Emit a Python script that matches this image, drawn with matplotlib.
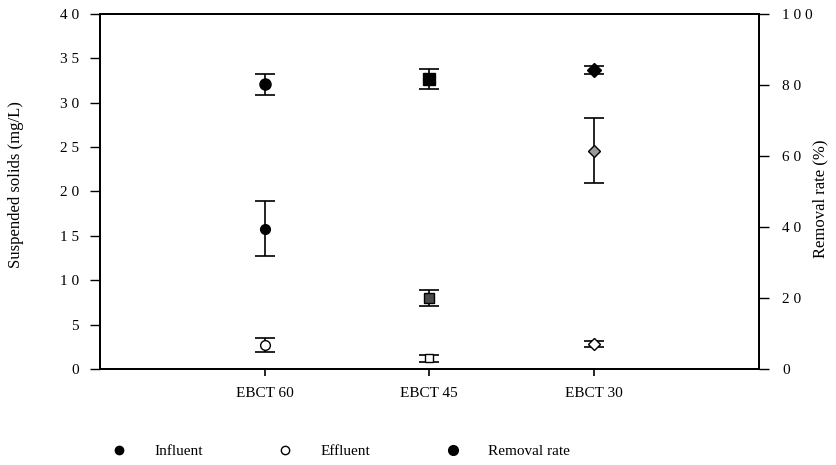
import numpy as np
import matplotlib.pyplot as plt
from matplotlib.lines import Line2D

plt.rcParams["font.family"] = ["Liberation Serif", "DejaVu Serif"]

groups = ["EBCT 60", "EBCT 45", "EBCT 30"]
influent = [15.8, 8.0, 24.6]
influent_err = [3.1, 0.9, 3.7]
effluent = [2.7, 1.2, 2.8]
effluent_err = [0.8, 0.4, 0.3]
removal = [80.2, 81.6, 84.2]
removal_err = [3.0, 2.8, 1.0]

ss_ticks = [0, 5, 10, 15, 20, 25, 30, 35, 40]
ss_labels = ["0", "5", "1 0", "1 5", "2 0", "2 5", "3 0", "3 5", "4 0"]
rr_ticks = [0, 20, 40, 60, 80, 100]
rr_labels = ["0", "2 0", "4 0", "6 0", "8 0", "1 0 0"]

# one marker shape per EBCT group
shapes = ["o", "s", "D"]
inf_face = ["black", "#4a4a4a", "#9a9a9a"]
sizes = [7, 7, 6]

fig = plt.figure(figsize=(8.36, 4.65), dpi=100)
ax = fig.add_axes([0.1196, 0.2065, 0.788, 0.7635])
ax2 = ax.twinx()

x = np.arange(1, len(groups) + 1)
eb = dict(ecolor="black", elinewidth=1.2, capsize=7, capthick=1.2, linestyle="none", mec="black")

for i in range(len(groups)):
    ax.errorbar(x[i], influent[i], yerr=influent_err[i], marker=shapes[i],
                mfc=inf_face[i], ms=sizes[i], **eb)
    ax.errorbar(x[i], effluent[i], yerr=effluent_err[i], marker=shapes[i],
                mfc="white", ms=sizes[i] - (1 if i == 1 else 0), **eb)
    ax2.errorbar(x[i], removal[i], yerr=removal_err[i], marker=shapes[i],
                 mfc="black", ms=sizes[i] + 1, **eb)

ax.set_xlim(0, 4)
ax.set_ylim(0, 40)
ax2.set_ylim(0, 100)
ax.set_xticks(x)
ax.set_xticklabels(groups, fontsize=11)
ax.set_yticks(ss_ticks)
ax.set_yticklabels(ss_labels, fontsize=11)
ax2.set_yticks(rr_ticks)
ax2.set_yticklabels(rr_labels, fontsize=11)

ax.tick_params(axis="x", direction="out", length=5, width=1.2, pad=8)
ax.tick_params(axis="y", direction="out", length=7, width=1.0, pad=8)
ax2.tick_params(axis="y", direction="out", length=7, width=1.0, pad=10)

for a in (ax, ax2):
    for s in a.spines.values():
        s.set_linewidth(1.3)

ax.set_ylabel("Suspended solids (mg/L)", fontsize=12)
ax2.set_ylabel("Removal rate (%)", fontsize=12)
ax.yaxis.set_label_coords(-0.116, 0.52)
ax2.yaxis.set_label_coords(1.082, 0.48)

handles = [
    Line2D([], [], marker="o", ls="none", mfc="black", mec="black", ms=6),
    Line2D([], [], marker="o", ls="none", mfc="white", mec="black", ms=6),
    Line2D([], [], marker="o", ls="none", mfc="black", mec="black", ms=7),
]
fig.legend(handles, ["Influent", "Effluent", "Removal rate"], loc="center left",
           bbox_to_anchor=(0.108, 0.03), ncol=3, frameon=False, fontsize=11,
           handletextpad=1.3, columnspacing=4.4)

fig.savefig("out.png", dpi=100)
